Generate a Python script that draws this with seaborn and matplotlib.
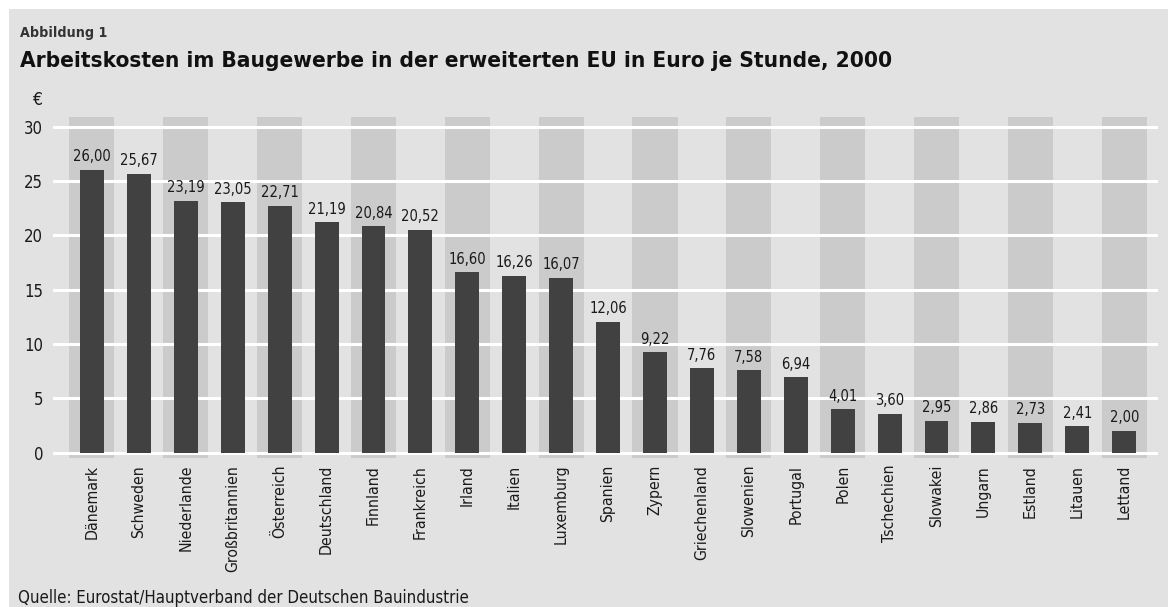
import matplotlib
matplotlib.use("Agg")
from matplotlib import pyplot as plt
from matplotlib.patches import Rectangle
import seaborn as sns
import pandas as pd

laender = ["Dänemark", "Schweden", "Niederlande", "Großbritannien", "Österreich",
           "Deutschland", "Finnland", "Frankreich", "Irland", "Italien", "Luxemburg",
           "Spanien", "Zypern", "Griechenland", "Slowenien", "Portugal", "Polen",
           "Tschechien", "Slowakei", "Ungarn", "Estland", "Litauen", "Lettand"]
kosten = [26.00, 25.67, 23.19, 23.05, 22.71, 21.19, 20.84, 20.52, 16.60, 16.26,
          16.07, 12.06, 9.22, 7.76, 7.58, 6.94, 4.01, 3.60, 2.95, 2.86, 2.73,
          2.41, 2.00]
y_ticks = [0, 5, 10, 15, 20, 25, 30]

df = pd.DataFrame({"land": laender, "kosten": kosten})

sns.set_style("white")
plt.rcParams["font.family"] = ["DejaVu Sans"]
plt.rcParams["font.stretch"] = "condensed"

bg = "#e2e2e2"
band = "#cbcbcb"
bar_col = "#414141"

fig = plt.figure(figsize=(11.68, 6.07), dpi=100)
fig.patch.set_facecolor("white")
fig.patches.append(Rectangle((9 / 1168, 0), 1 - 9 / 1168, 1 - 9 / 607,
                             transform=fig.transFigure, facecolor=bg,
                             edgecolor="none", zorder=-10))

ax = fig.add_axes([53 / 1168, (607 - 459.2) / 607, 1105 / 1168, 343.5 / 607])
ax.set_facecolor("none")

# alternating background bands
for i in range(0, len(laender), 2):
    ax.bar(i, 31.36, bottom=-0.5, width=0.96, color=band, zorder=0, linewidth=0)

for t in y_ticks:
    ax.axhline(t, color="white", lw=2.2, zorder=1)

sns.barplot(data=df, x="land", y="kosten", color=bar_col, width=0.51,
            saturation=1, ax=ax, zorder=2, linewidth=0)

labels = [f"{v:.2f}".replace(".", ",") for v in kosten]
ax.bar_label(ax.containers[-1], labels=labels, padding=4, fontsize=10.5,
             color="#1a1a1a")

ax.set_xlim(-0.83, 22.72)
ax.set_ylim(-0.6, 31)
ax.set_yticks(y_ticks)
ax.set_xlabel("")
ax.set_ylabel("")
ax.tick_params(axis="y", length=0, labelsize=12, pad=7, labelcolor="#1a1a1a")
ax.tick_params(axis="x", length=0, labelsize=11.3, pad=4, labelcolor="#1a1a1a")
plt.setp(ax.get_xticklabels(), rotation=90)
sns.despine(ax=ax, left=True, bottom=True)

fig.text(20 / 1168, 1 - 37 / 607, "Abbildung 1", fontsize=10.2, fontweight="bold",
         color="#333333", va="baseline")
fig.text(20 / 1168, 1 - 67 / 607, "Arbeitskosten im Baugewerbe in der erweiterten EU in Euro je Stunde, 2000",
         fontsize=16.2, fontweight="bold", color="#111111", va="baseline")
fig.text(33 / 1168, 1 - 105 / 607, "€", fontsize=12.5, color="#1a1a1a", va="baseline")
fig.text(18 / 1168, 1 - 603 / 607, "Quelle: Eurostat/Hauptverband der Deutschen Bauindustrie",
         fontsize=12.1, color="#1a1a1a", va="baseline")

fig.savefig("out.png", dpi=100, facecolor=fig.get_facecolor())
